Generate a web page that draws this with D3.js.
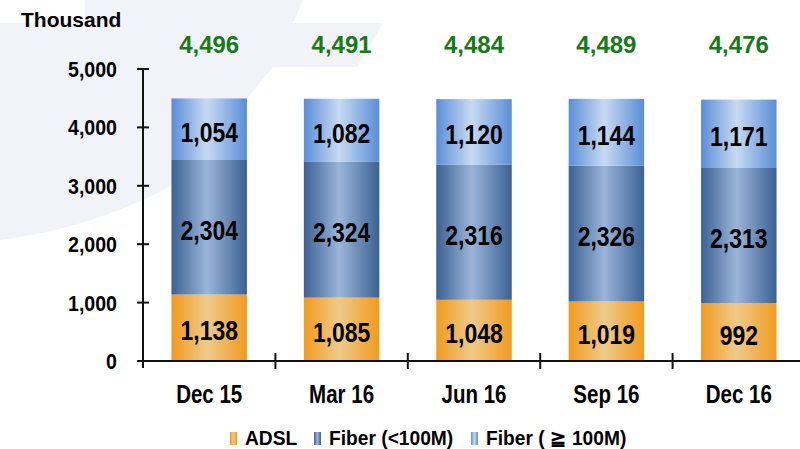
<!DOCTYPE html>
<html>
<head>
<meta charset="utf-8">
<script src="https://cdn.jsdelivr.net/npm/d3@7"></script>
<style>
  html, body { margin: 0; padding: 0; background: #fff; }
  svg { display: block; }
  text { font-family: "Liberation Sans", Arial, sans-serif; font-weight: bold; }
</style>
</head>
<body>
<div id="chart"></div>
<script>
// values in thousands
const categories = ['Dec 15', 'Mar 16', 'Jun 16', 'Sep 16', 'Dec 16'];
const adsl = [1138, 1085, 1048, 1019, 992];
const fiberLow = [2304, 2324, 2316, 2326, 2313];
const fiberHigh = [1054, 1082, 1120, 1144, 1171];
const totals = [4496, 4491, 4484, 4489, 4476];
const yTicks = [0, 1000, 2000, 3000, 4000, 5000];
const seriesNames = ['ADSL', 'Fiber (<100M)', 'Fiber ( \u2267 100M)'];

const width = 800, height = 449;

let svg = d3.select('#chart').append('svg')
    .attr('width', width)
    .attr('height', height);

// faint watermark shape in the background
svg.append('path')
    .attr('d', 'M85,0 L303,0 L293,23 L383,23 L357,67 L273,67 L178,182 C120,215 60,232 0,240 L0,23 L85,23 Z')
    .attr('fill', '#f2f3f9');

//Gradients for the bar fills
let defs = svg.append('defs');
let gradients = [
    {id: 'g-adsl', edge: '#f29a1d', mid: '#eecb8a'},
    {id: 'g-low', edge: '#3b6193', mid: '#9bb5d9'},
    {id: 'g-high', edge: '#5a8ed7', mid: '#c8daf2'}
];
gradients.forEach(g => {
    let lg = defs.append('linearGradient').attr('id', g.id)
        .attr('x1', 0).attr('x2', 1).attr('y1', 0).attr('y2', 0);
    lg.append('stop').attr('offset', 0).attr('stop-color', g.edge);
    lg.append('stop').attr('offset', 0.47).attr('stop-color', g.mid);
    lg.append('stop').attr('offset', 1).attr('stop-color', g.edge);
});

let x = d3.scaleBand()
    .domain(categories)
    .range([143, 805])
    .paddingInner(0.43)
    .paddingOuter(0.215);

let y = d3.scaleLinear()
    .domain([0, 5000])
    .range([361, 69]);

let rows = categories.map((c, i) => ({cat: c, adsl: adsl[i], low: fiberLow[i], high: fiberHigh[i]}));
let stack = d3.stack().keys(['adsl', 'low', 'high'])(rows);
let fills = ['url(#g-adsl)', 'url(#g-low)', 'url(#g-high)'];

let layers = svg.selectAll('.layer')
    .data(stack)
    .enter().append('g')
    .attr('class', 'layer')
    .attr('fill', (d, i) => fills[i]);

layers.selectAll('rect')
    .data(d => d)
    .enter().append('rect')
    .attr('x', d => x(d.data.cat))
    .attr('y', d => y(d[1]))
    .attr('width', x.bandwidth())
    .attr('height', d => y(d[0]) - y(d[1]));

// segment value labels
layers.selectAll('g.val')
    .data(d => d)
    .enter().append('g')
    .attr('class', 'val')
    .attr('transform', d => 'translate(' + (x(d.data.cat) + x.bandwidth() / 2) + ',' + ((y(d[0]) + y(d[1])) / 2 + 12.5) + ') scale(0.82,1)')
    .append('text')
    .attr('text-anchor', 'middle')
    .attr('font-size', 28)
    .attr('fill', '#000')
    .text(d => d3.format(',')(d[1] - d[0]));

// totals above bars
svg.selectAll('.total')
    .data(totals)
    .enter().append('text')
    .attr('class', 'total')
    .attr('x', (d, i) => x(categories[i]) + x.bandwidth() / 2)
    .attr('y', 53)
    .attr('text-anchor', 'middle')
    .attr('font-size', 24)
    .attr('fill', '#177a17')
    .text(d => d3.format(',')(d));

//Y axis
let yAxis = svg.append('g').attr('transform', 'translate(143,0)');
yAxis.append('line')
    .attr('x1', 0).attr('x2', 0)
    .attr('y1', y(5000)).attr('y2', 368)
    .attr('stroke', '#111').attr('stroke-width', 2);
yAxis.selectAll('.ytick')
    .data(yTicks)
    .enter().append('line')
    .attr('x1', -6).attr('x2', 6)
    .attr('y1', d => y(d)).attr('y2', d => y(d))
    .attr('stroke', '#111').attr('stroke-width', 2);
yAxis.selectAll('.ylab')
    .data(yTicks)
    .enter().append('g')
    .attr('transform', d => 'translate(-26,' + (y(d) + 8) + ') scale(0.89,1)')
    .append('text')
    .attr('text-anchor', 'end')
    .attr('font-size', 22)
    .attr('fill', '#000')
    .text(d => d3.format(',')(d));

//X axis
svg.append('line')
    .attr('x1', 137).attr('x2', width)
    .attr('y1', y(0)).attr('y2', y(0))
    .attr('stroke', '#111').attr('stroke-width', 2);
let step = x.step();
svg.selectAll('.xtick')
    .data(categories.slice(1))
    .enter().append('line')
    .attr('x1', (d, i) => 143 + step * (i + 1))
    .attr('x2', (d, i) => 143 + step * (i + 1))
    .attr('y1', y(0) - 8).attr('y2', y(0) + 8)
    .attr('stroke', '#111').attr('stroke-width', 2);
svg.selectAll('.xlab')
    .data(categories)
    .enter().append('g')
    .attr('transform', d => 'translate(' + (x(d) + x.bandwidth() / 2) + ',403) scale(0.82,1)')
    .append('text')
    .attr('text-anchor', 'middle')
    .attr('font-size', 25)
    .attr('fill', '#000')
    .text(d => d);

svg.append('text')
    .attr('x', 21).attr('y', 27)
    .attr('font-size', 21)
    .attr('fill', '#000')
    .text('Thousand');

//Legend
let legendX = [230, 314, 471];
let legend = svg.selectAll('.legend')
    .data(seriesNames)
    .enter().append('g')
    .attr('transform', (d, i) => 'translate(' + legendX[i] + ',0)');
legend.append('rect')
    .attr('x', 0).attr('y', 432)
    .attr('width', 7).attr('height', 13)
    .attr('fill', (d, i) => fills[i]);
legend.append('g')
    .attr('transform', 'translate(15,445) scale(0.96,1)')
    .append('text')
    .attr('font-size', 20)
    .attr('fill', '#000')
    .text(d => d);
</script>
</body>
</html>
